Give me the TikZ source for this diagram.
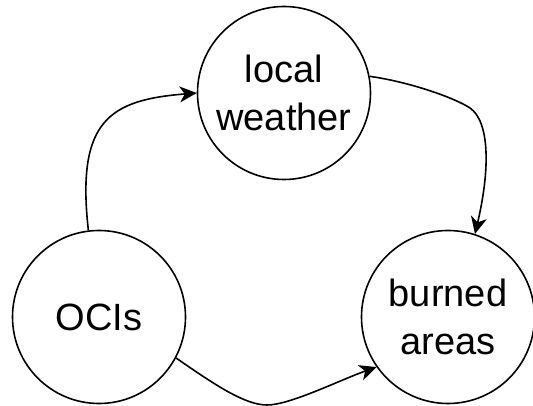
\documentclass[tikz,border=0pt]{standalone}
\usepackage{fontspec}
\setmainfont{Liberation Sans}
\usetikzlibrary{arrows.meta}
\begin{document}
\begin{tikzpicture}[x=1pt,y=-1pt,
  state/.style={circle,draw,line width=1.6pt,minimum size=173pt,inner sep=0pt,
    align=center,font=\fontsize{38}{48}\selectfont},
  link/.style={line width=1.6pt,-{Stealth[length=17pt,width=16pt,inset=5pt]}}]
\useasboundingbox (0,0) rectangle (533,406);
\node[state] (ocis) at (99,317) {OCIs};
\node[state] (lw) at (284,93) {local\\weather};
\node[state] (bu) at (448,317) {burned\\areas};
\draw[link] (ocis.97) .. controls (76,120) and (110,100) .. (lw.180);
\draw[link] (lw.11) .. controls (410,82) and (455,98) .. (470,108)
   .. controls (490,122) and (490,170) .. (bu.72);
\draw[link] (ocis.-28) .. controls (215,385) and (245,405) .. (267,405)
   .. controls (290,405) and (340,380) .. (bu.215);
\end{tikzpicture}
\end{document}
